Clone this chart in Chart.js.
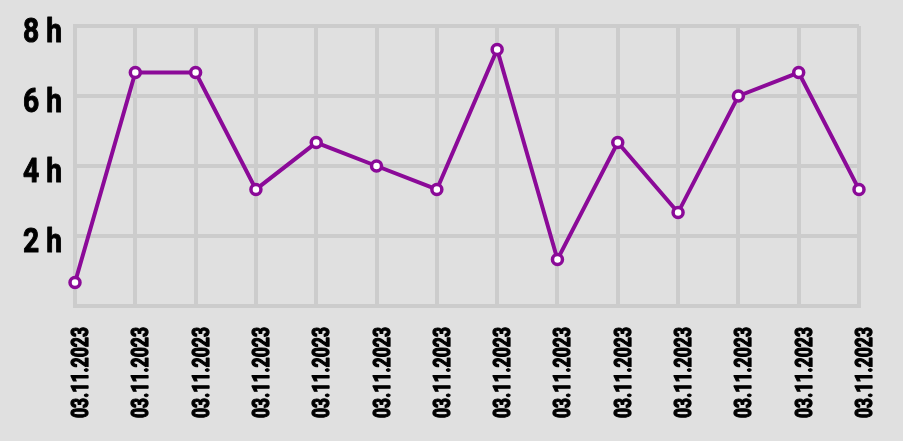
<!DOCTYPE html>
<html>
<head>
<meta charset="utf-8">
<script src="https://cdn.jsdelivr.net/npm/chart.js@4/dist/chart.umd.min.js"></script>
<style>
html,body{margin:0;padding:0;background:#e0e0e0;}
#wrap{width:903px;height:441px;position:relative;}
</style>
</head>
<body>
<div id="wrap"><canvas id="c"></canvas></div>
<script>
const categories = ["03.11.2023","03.11.2023","03.11.2023","03.11.2023","03.11.2023","03.11.2023","03.11.2023","03.11.2023","03.11.2023","03.11.2023","03.11.2023","03.11.2023","03.11.2023","03.11.2023"];
const hours = [0.67, 6.67, 6.67, 3.33, 4.67, 4.0, 3.33, 7.33, 1.33, 4.67, 2.67, 6.0, 6.67, 3.33];
const yTicks = [0, 2, 4, 6, 8];

const FONT = 'Roboto, "DejaVu Sans", sans-serif';
const purple = '#8b0a98';
const grid = '#cccccc';

// Draws the tick labels in a condensed style (horizontally compressed bold text)
const condensedLabels = {
  id: 'condensedLabels',
  afterDraw(chart) {
    const ctx = chart.ctx;
    const xs = chart.scales.x, ys = chart.scales.y;
    ctx.save();
    ctx.fillStyle = '#000';
    ctx.strokeStyle = '#000';
    ctx.lineJoin = 'round';
    // y labels
    ctx.font = 'bold 33px ' + FONT;
    const sy = 39 / ctx.measureText('8 h').width;
    ys.ticks.forEach(t => {
      if (t.value === 0) return;
      const py = ys.getPixelForValue(t.value);
      ctx.save();
      ctx.translate(62, py + 16);
      ctx.scale(sy, 1);
      ctx.textAlign = 'right';
      ctx.textBaseline = 'alphabetic';
      ctx.lineWidth = 1;
      ctx.fillText(t.value + ' h', 0, 0);
      ctx.strokeText(t.value + ' h', 0, 0);
      ctx.restore();
    });
    // x labels
    ctx.font = 'bold 24px ' + FONT;
    const sx = 91 / ctx.measureText(categories[0]).width;
    xs.ticks.forEach((t, i) => {
      const px = xs.getPixelForTick(i);
      ctx.save();
      ctx.translate(px + 4 + 9, xs.bottom - 3);
      ctx.rotate(-Math.PI / 2);
      ctx.scale(sx, 1);
      ctx.textAlign = 'left';
      ctx.textBaseline = 'alphabetic';
      ctx.lineWidth = 1.3;
      ctx.fillText(categories[i], 0, 0);
      ctx.strokeText(categories[i], 0, 0);
      ctx.restore();
    });
    ctx.restore();
  }
};

new Chart(document.getElementById('c'), {
  type: 'line',
  data: {
    labels: categories,
    datasets: [{
      data: hours,
      borderColor: purple,
      borderWidth: 4,
      pointBackgroundColor: '#ffffff',
      pointBorderColor: purple,
      pointBorderWidth: 3.5,
      pointRadius: 5,
      tension: 0,
      clip: false
    }]
  },
  plugins: [condensedLabels],
  options: {
    responsive: true,
    maintainAspectRatio: false,
    animation: false,
    layout: { padding: { top: 26, right: 44, bottom: 20, left: 0 } },
    plugins: { legend: { display: false }, tooltip: { enabled: false } },
    scales: {
      x: {
        afterFit: (s) => { s.height = 115; },
        grid: { color: grid, lineWidth: 4, drawTicks: false },
        border: { color: grid, width: 4 },
        ticks: { display: false, autoSkip: false }
      },
      y: {
        min: 0, max: 8,
        afterFit: (s) => { s.width = 75; },
        afterBuildTicks: (axis) => { axis.ticks = yTicks.map(v => ({ value: v })); },
        grid: { color: grid, lineWidth: 4, drawTicks: false },
        border: { color: grid, width: 4 },
        ticks: { display: false }
      }
    }
  }
});
</script>
</body>
</html>
